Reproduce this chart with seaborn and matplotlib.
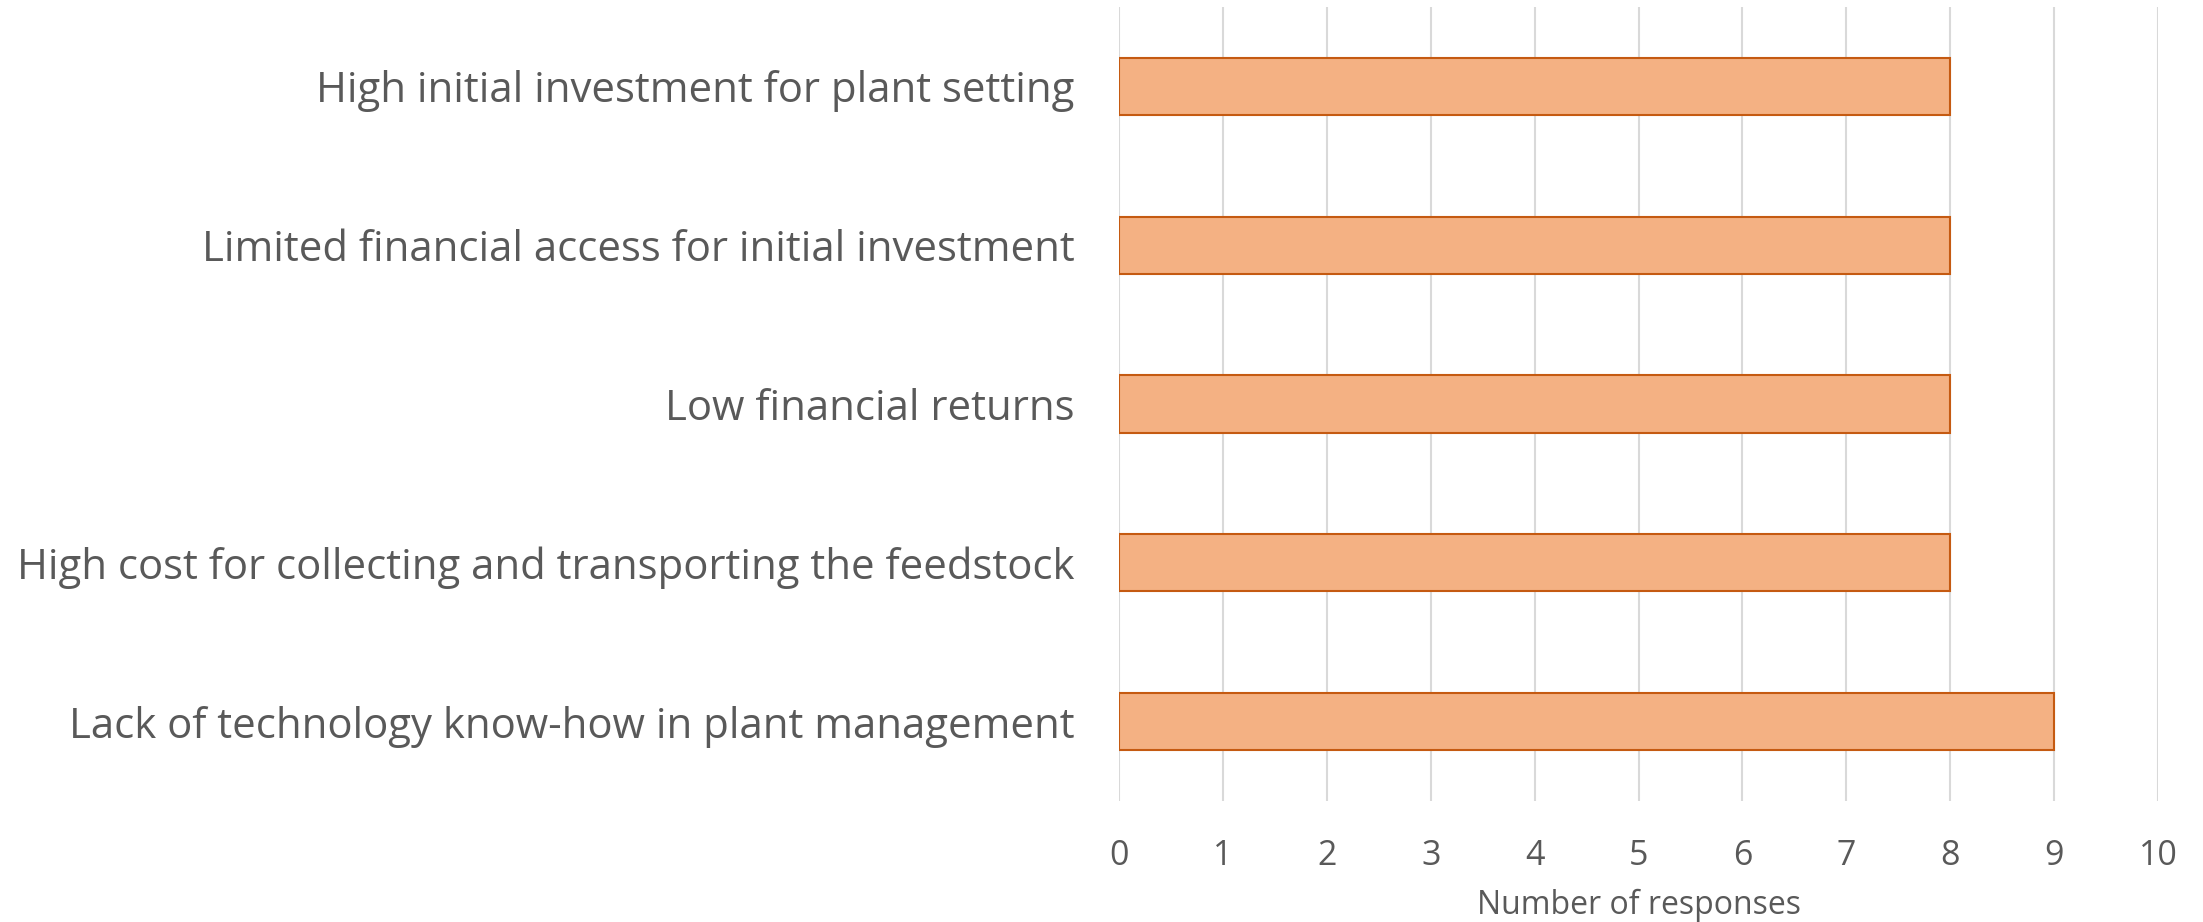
import seaborn as sns
import matplotlib.pyplot as plt
import pandas as pd

sns.set_theme(style="white")
plt.rcParams['font.family'] = ['Open Sans', 'DejaVu Sans']

barriers = [
    "High initial investment for plant setting",
    "Limited financial access for initial investment",
    "Low financial returns",
    "High cost for collecting and transporting the feedstock",
    "Lack of technology know-how in plant management",
]
responses = [8, 8, 8, 8, 9]

df = pd.DataFrame({"barrier": barriers, "responses": responses})

fig = plt.figure(figsize=(22.03, 9.22), dpi=100)
ax = fig.add_axes([0.508, 0.1312, 0.4716, 0.8612])

sns.barplot(data=df, x="responses", y="barrier", orient="h", ax=ax,
            color="#F4B183", edgecolor="#C55A11", linewidth=1.5,
            width=0.36, saturation=1)

ax.set_xlim(0, 10)
ax.set_ylim(4.5, -0.5)
ax.set_xticks(range(0, 11))
ax.xaxis.grid(True, color="#D9D9D9", linewidth=1.5)
ax.set_axisbelow(True)
for s in ax.spines.values():
    s.set_visible(False)
ax.tick_params(axis="both", length=0)
ax.tick_params(axis="y", labelsize=30.2, labelcolor="#595959", pad=32)
ax.tick_params(axis="x", labelsize=24.5, labelcolor="#595959", pad=27)
ax.set_ylabel("")
ax.set_xlabel("Number of responses", fontsize=23, color="#595959", labelpad=12)

fig.savefig("out.png", dpi=100)
